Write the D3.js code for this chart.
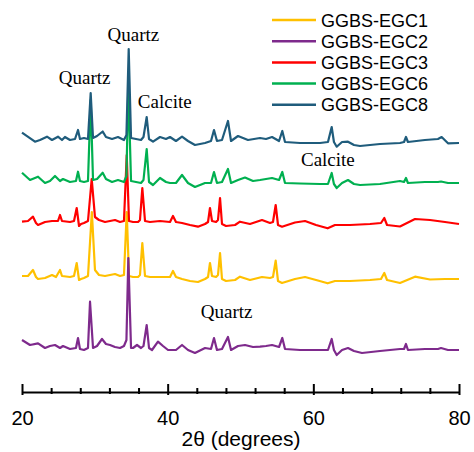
<!DOCTYPE html>
<html>
<head>
<meta charset="utf-8">
<script src="https://cdn.jsdelivr.net/npm/d3@7"></script>
<style>
  body { margin: 0; background: #fff; }
  svg { display: block; }
</style>
</head>
<body>
<script>
const width = 474
const height = 452

// series names + colours (legend order)
const seriesNames = ["GGBS-EGC1", "GGBS-EGC2", "GGBS-EGC3", "GGBS-EGC6", "GGBS-EGC8"]
const seriesColors = ["#FFC000", "#7E2A8C", "#FF0000", "#00B050", "#1F5C7C"]
// vertical stacking offset of each pattern (a.u.)
const seriesOffsets = [1150, 440, 1700, 2100, 2520]

// [2theta, intensity a.u.]
const egc1 = [[20,10],[20.82,10],[21.51,70],[21.92,0],[22.2,-20],[23.16,-10],[24.12,20],[24.67,0],[25.22,70],[25.49,10],[26.59,0],[27.14,10],[27.51,140],[27.83,-30],[28.1,-20],[28.51,-10],[29.06,10],[29.59,650],[30.02,70],[30.57,20],[31.4,10],[32.08,20],[32.77,30],[33.46,10],[34,20],[34.38,650],[34.69,10],[35.24,0],[35.93,0],[36.2,20],[36.52,340],[36.89,10],[37.57,0],[38.95,0],[40.32,0],[40.73,60],[41.14,0],[41.97,-20],[43.07,-40],[44.16,-50],[45.13,-20],[45.54,0],[45.81,140],[46.09,10],[46.64,0],[46.91,20],[47.19,240],[47.46,-20],[48.01,-40],[49.25,-30],[49.93,3],[51.3,-30],[52.95,0],[54.05,-10],[54.46,0],[54.83,163],[55.15,-40],[55.7,-60],[57.48,-20],[58.86,0],[60.37,-30],[61.97,-63],[62.97,-40],[65.03,-40],[67.78,-30],[69.29,-20],[69.74,40],[70.12,-30],[71.9,-60],[73.96,3],[76.02,-25],[78.08,-20],[80,-20]]

const egc2 = [[20,80],[21.1,30],[22.2,47],[23.16,0],[23.84,20],[24.53,30],[25.22,0],[25.63,20],[26.59,-10],[27.41,0],[27.69,100],[27.96,-10],[28.51,-20],[29.06,0],[29.34,463],[29.75,0],[30.3,20],[30.98,90],[31.53,40],[32.08,30],[32.77,10],[33.46,0],[34,20],[34.34,80],[34.6,900],[34.97,0],[35.24,0],[35.79,30],[36.34,0],[36.68,20],[37.12,230],[37.44,0],[37.85,-20],[38.67,63],[39.36,20],[40.05,-20],[41.14,-20],[41.97,30],[42.79,-20],[43.75,-50],[45.13,0],[45.95,-10],[46.36,100],[46.77,-20],[47.46,-10],[48.28,110],[48.7,-20],[49.66,20],[50.62,30],[51.72,10],[52.68,13],[53.5,20],[54.33,30],[55.29,10],[55.74,100],[56.11,-10],[58.17,-20],[60.92,-20],[62.01,-20],[62.52,90],[62.83,-20],[63.21,-70],[63.94,-20],[64.76,0],[65.58,-30],[66.68,-50],[69.15,-30],[71.9,-10],[72.45,-10],[72.72,40],[72.99,-20],[75.32,-10],[77.11,-10],[77.53,0],[78.49,-20],[80,-20]]

const egc3 = [[20,3],[20.82,10],[21.51,53],[21.92,-10],[22.2,-30],[23.16,0],[24.12,10],[24.94,10],[25.22,70],[25.49,10],[26.59,0],[27.14,10],[27.51,140],[27.83,-40],[28.1,-20],[28.51,-10],[29.06,10],[29.57,430],[30.02,50],[30.57,20],[31.4,0],[32.08,10],[32.77,20],[33.46,0],[34,10],[34.38,670],[34.69,10],[35.24,0],[35.93,0],[36.2,20],[36.52,340],[36.89,10],[37.57,0],[38.95,10],[40.32,0],[40.73,60],[41.14,0],[41.97,-10],[43.07,-30],[44.16,-47],[45.13,-20],[45.54,0],[45.81,140],[46.09,10],[46.64,0],[46.91,20],[47.19,240],[47.46,-20],[48.01,-40],[49.25,-30],[49.93,3],[51.3,-20],[52.95,20],[54.05,-10],[54.46,0],[54.83,170],[55.15,-30],[55.7,-47],[57.48,-5],[58.86,10],[60.37,-30],[61.97,-63],[62.97,-30],[65.03,-30],[67.78,-20],[69.29,-10],[69.74,40],[70.12,-30],[71.9,-45],[73.96,30],[76.02,20],[78.08,0],[80,-20]]

const egc6 = [[20,93],[21.1,20],[22.2,53],[23.16,-10],[23.84,10],[24.53,60],[25.22,10],[25.63,30],[26.59,0],[27.41,10],[27.69,103],[27.96,10],[28.51,0],[29.06,10],[29.43,820],[29.75,20],[30.3,30],[31.08,93],[31.53,30],[32.36,0],[33.18,20],[34,0],[34.34,60],[34.6,970],[34.97,10],[35.65,0],[36.34,-10],[36.68,20],[37.12,330],[37.44,0],[37.99,-30],[38.95,40],[39.77,0],[40.32,-10],[41.14,-10],[41.97,70],[42.79,-10],[43.75,-50],[45.13,-10],[45.95,-10],[46.36,100],[46.77,-10],[47.46,0],[48.28,130],[48.7,-10],[49.66,20],[50.62,45],[51.72,10],[52.68,20],[53.5,30],[54.33,40],[55.29,20],[55.74,100],[56.11,-10],[58.17,-15],[60.92,-20],[62.01,-20],[62.52,90],[62.83,-20],[63.21,-60],[63.94,-10],[64.76,20],[65.58,-20],[66.41,-30],[69.15,-20],[71.9,10],[72.45,0],[72.72,40],[72.99,-10],[75.32,0],[77.11,0],[77.53,5],[78.49,-10],[80,-10]]

const egc8 = [[20,73],[21.78,-17],[22.47,0],[23.43,33],[24.12,0],[24.94,33],[25.49,0],[25.9,30],[26.59,0],[27.28,10],[27.69,100],[27.96,10],[28.51,20],[29.06,10],[29.43,470],[29.75,20],[30.3,40],[31.08,85],[31.53,30],[32.36,10],[33.18,30],[34,0],[34.34,50],[34.65,910],[34.97,20],[35.65,10],[36.34,0],[36.68,30],[37.12,230],[37.44,10],[37.99,-17],[38.95,30],[39.77,10],[40.32,30],[41.14,-10],[41.97,33],[42.79,-10],[43.75,-50],[45.13,-30],[45.95,-10],[46.36,100],[46.77,-10],[47.46,0],[48.28,190],[48.7,-10],[49.66,40],[51.03,0],[52.68,20],[53.5,10],[54.33,30],[55.29,-10],[55.74,90],[56.11,-20],[58.17,-30],[60.92,-30],[62.01,-20],[62.52,130],[62.83,-20],[63.21,-67],[63.94,-20],[64.76,-17],[65.58,-50],[66.41,-60],[69.15,-40],[71.9,-30],[72.45,-20],[72.72,30],[72.99,-20],[75.32,0],[77.11,10],[77.62,30],[78.49,-33],[80,-30]]

const seriesData = [egc1, egc2, egc3, egc6, egc8]

const xTicks = [20, 40, 60, 80]
const xMinorTicks = [24, 28, 32, 36, 44, 48, 52, 56, 64, 68, 72, 76]

// phase labels: [text, 2theta, y a.u.]
const labels = [
    ["Quartz", 35.3, 3510],
    ["Quartz", 28.6, 3080],
    ["Calcite", 39.6, 2840],
    ["Calcite", 62.0, 2260],
    ["Quartz", 48.1, 740]
]

const x = d3.scaleLinear().domain([20, 80]).range([22, 459])
const y = d3.scaleLinear().domain([0, 3600]).range([392, 32])

const svg = d3.select("body").append("svg")
    .attr("width", width)
    .attr("height", height)

const line = d3.line()
    .x(d => x(d[0]))

seriesData.forEach((s, i) => {
    svg.append("path")
        .datum(s)
        .attr("fill", "none")
        .attr("stroke", seriesColors[i])
        .attr("stroke-width", 2.2)
        .attr("stroke-linejoin", "round")
        .attr("d", line.y(d => y(d[1] + seriesOffsets[i])))
})

// x axis
const axisY = 392
const gx = svg.append("g").attr("transform", `translate(0,${axisY})`)
gx.call(d3.axisBottom(x).tickValues(xTicks).tickSizeOuter(0).tickPadding(13))
gx.select(".domain").attr("stroke", "#000").attr("stroke-width", 2)
gx.selectAll(".tick line").attr("y1", -8).attr("y2", 3).attr("stroke-width", 2)
gx.selectAll(".tick text")
    .attr("font-family", "Arial, 'Liberation Sans', sans-serif")
    .attr("font-size", 20)
    .attr("fill", "#000")

const gm = svg.append("g").attr("transform", `translate(0,${axisY})`)
gm.call(d3.axisBottom(x).tickValues(xMinorTicks).tickFormat("").tickSizeOuter(0))
gm.select(".domain").remove()
gm.selectAll(".tick line").attr("y1", -4).attr("y2", 2).attr("stroke-width", 2)

svg.append("text")
    .attr("x", 241)
    .attr("y", 446)
    .attr("text-anchor", "middle")
    .attr("font-family", "Arial, 'Liberation Sans', sans-serif")
    .attr("font-size", 21)
    .text("2θ (degrees)")

// phase annotations
svg.selectAll(".phase")
    .data(labels)
    .join("text")
    .attr("class", "phase")
    .attr("x", d => x(d[1]))
    .attr("y", d => y(d[2]))
    .attr("text-anchor", "middle")
    .attr("font-family", "'Times New Roman', 'Liberation Serif', serif")
    .attr("font-size", 19)
    .text(d => d[0])

// legend
const legend = svg.append("g")
seriesNames.forEach((n, i) => {
    const ly = 20 + i * 21.2
    legend.append("line")
        .attr("x1", 272).attr("x2", 316)
        .attr("y1", ly).attr("y2", ly)
        .attr("stroke", seriesColors[i])
        .attr("stroke-width", 2.5)
    legend.append("text")
        .attr("x", 321)
        .attr("y", ly + 6.5)
        .attr("font-family", "Arial, 'Liberation Sans', sans-serif")
        .attr("font-size", 18)
        .text(n)
})
</script>
</body>
</html>
